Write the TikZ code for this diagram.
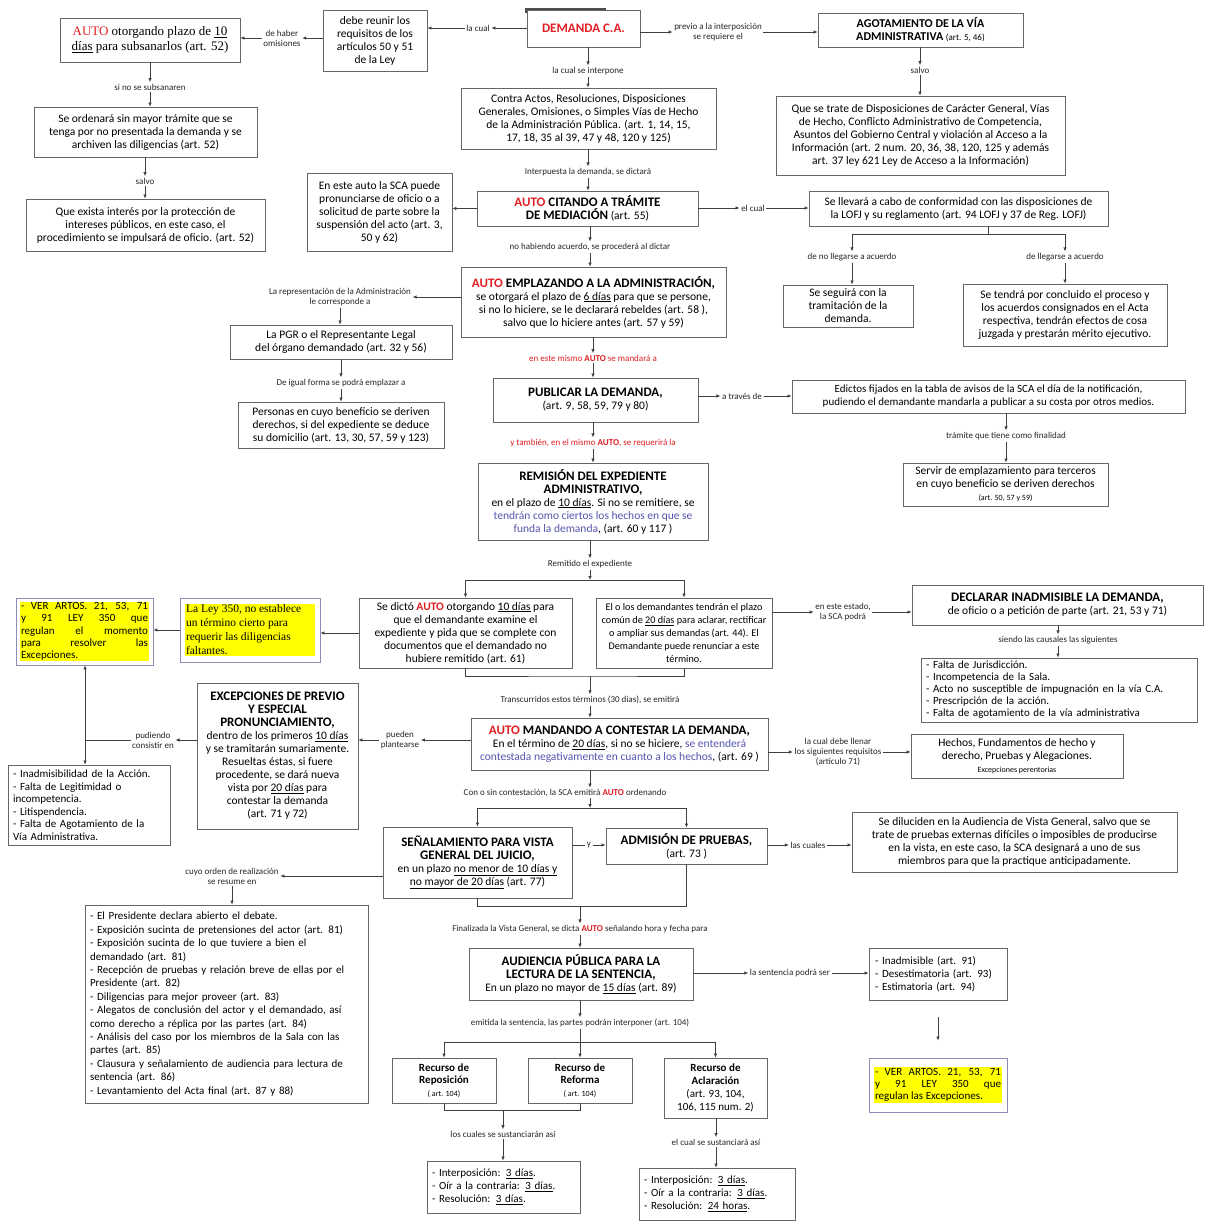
\documentclass[tikz,border=0pt]{standalone}
\usepackage{fontspec}
\setmainfont{Carlito}
\newfontfamily\timesf{Liberation Serif}
\usetikzlibrary{arrows.meta}
\definecolor{autored}{RGB}{225,30,35}
\definecolor{azul}{RGB}{85,85,175}
\definecolor{amarillo}{RGB}{255,255,0}
\definecolor{hlborde}{RGB}{140,140,185}
\newcommand{\ttl}[1]{{\fontsize{13}{14.5}\selectfont\bfseries #1}}
\newcommand{\hlpar}[2]{{\setlength{\fboxsep}{1pt}\colorbox{amarillo}{\parbox{#1}{#2}}}}
\begin{document}
\begin{tikzpicture}
        [x=1pt, y=-1pt,
        box/.style={draw=black!60, line width=0.8pt, fill=white, align=center, inner sep=2pt, font=\fontsize{11.5}{13}\selectfont},
        lbox/.style={box, align=left, inner xsep=5pt},
        hbox/.style={draw=hlborde, line width=0.8pt, fill=white, inner sep=3pt, font=\fontsize{11}{12.2}\selectfont},
        sz/.style 2 args={minimum width=#1pt, minimum height=#2pt},
        lbl/.style={align=center, inner sep=1.5pt, text=black!85, font=\fontsize{9}{10}\selectfont},
        conn/.style={line width=0.7pt, draw=black!75},
        arr/.style={conn, -{Latex[length=4pt, width=3.5pt]}}]

        \fill[white] (0,0) rectangle (1208,1231);
        \useasboundingbox (0,0) rectangle (1208,1231);

        % Top row
        \fill[black!70] (525,8) rectangle (606,13);
        \node[box, sz={113}{37}] (dem) at (583.5,28.5) {\ttl{\textcolor{autored}{DEMANDA C.A.}}};
        \node[box, sz={104}{61}] (req) at (375,40.5) {debe reunir los\\ requisitos de los\\ artículos 50 y 51\\ de la Ley};
        \node[box, sz={180}{44}, font=\timesf\fontsize{13}{15}\selectfont] (aut52) at (150,40) {\textcolor{autored}{AUTO} otorgando plazo de \underline{10}\\ \underline{días} para subsanarlos (art. 52)};
        \node[box, sz={205}{34}] (agot) at (920.5,30) {{\fontsize{12}{13}\selectfont\bfseries AGOTAMIENTO DE LA VÍA}\\ {\fontsize{12}{13}\selectfont\bfseries ADMINISTRATIVA} {\fontsize{9}{10}\selectfont (art. 5, 46)}};
        \node[lbl] (lcual) at (478,28) {la cual};
        \node[lbl] (lomis) at (282,38) {de haber\\ omisiones};
        \node[lbl] (lprevio) at (718,32) {previo a la interposición\\ se requiere el};

        % Left column
        \node[lbl] (lnosub) at (150,87) {si no se subsanaren};
        \node[box, sz={223}{50}] (ordenara) at (145.5,132) {Se ordenará sin mayor trámite que se\\ tenga por no presentada la demanda y se\\ archiven las diligencias (art. 52)};
        \node[lbl] (lsalvob) at (145,181) {salvo};
        \node[box, sz={239}{52}] (exista) at (145.5,225) {Que exista interés por la protección de\\ intereses públicos, en este caso, el\\ procedimiento se impulsará de oficio. (art. 52)};

        % Main column
        \node[lbl] (linterp) at (588,71) {la cual se interpone};
        \node[box, sz={255}{61}] (contra) at (588.5,118.5) {Contra Actos, Resoluciones, Disposiciones\\ Generales, Omisiones, o Simples Vías de Hecho\\ de la Administración Pública. (art. 1, 14, 15,\\ 17, 18, 35 al 39, 47 y 48, 120 y 125)};
        \node[lbl] (ldictara) at (588,172) {Interpuesta la demanda, se dictará};
        \node[box, sz={221}{35}] (citando) at (587.5,208.5) {\ttl{\textcolor{autored}{AUTO} CITANDO A TRÁMITE}\\ \ttl{DE MEDIACIÓN} (art. 55)};
        \node[box, sz={145}{78}] (enauto) at (379.5,212) {En este auto la SCA puede\\ pronunciarse de oficio o a\\ solicitud de parte sobre la\\ suspensión del acto (art. 3,\\ 50 y 62)};

        % Right column
        \node[lbl] (lsalvoa) at (920,70) {salvo};
        \node[box, sz={289}{79}] (que) at (920.5,135.5) {Que se trate de Disposiciones de Carácter General, Vías\\ de Hecho, Conflicto Administrativo de Competencia,\\ Asuntos del Gobierno Central y violación al Acceso a la\\ Información (art. 2 num. 20, 36, 38, 120, 125 y además\\ art. 37 ley 621 Ley de Acceso a la Información)};
        \node[lbl] (lelcual) at (753,208) {el cual};
        \node[box, sz={299}{35}] (llevara) at (958.5,208.5) {Se llevará a cabo de conformidad con las disposiciones de\\ la LOFJ y su reglamento (art. 94 LOFJ y 37 de Reg. LOFJ)};
        \coordinate (j1) at (988,234);
        \node[lbl] (lnollega) at (852,257) {de no llegarse a acuerdo};
        \node[lbl] (lllega) at (1065,257) {de llegarse a acuerdo};
        \node[box, sz={130}{42}] (seguira) at (848,306) {Se seguirá con la\\ tramitación de la\\ demanda.};
        \node[box, sz={204}{62}] (tendra) at (1065,315) {Se tendrá por concluido el proceso y\\ los acuerdos consignados en el Acta\\ respectiva, tendrán efectos de cosa\\ juzgada y prestarán mérito ejecutivo.};

        % Emplazamiento
        \node[lbl] (lnoacu) at (590,247) {no habiendo acuerdo, se procederá al dictar};
        \node[box, sz={265}{70}] (emplaz) at (593.5,302) {\ttl{\textcolor{autored}{AUTO} EMPLAZANDO A LA ADMINISTRACIÓN,}\\ se otorgará el plazo de \underline{6 días} para que se persone,\\ si no lo hiciere, se le declarará rebeldes (art. 58 ),\\ salvo que lo hiciere antes (art. 57 y 59)};
        \node[lbl] (lrepr) at (340,297) {La representación de la Administración\\ le corresponde a};
        \node[box, sz={222}{34}] (pgr) at (341,342) {La PGR o el Representante Legal\\ del órgano demandado (art. 32 y 56)};
        \node[lbl] (ligual) at (341,383) {De igual forma se podrá emplazar a};
        \node[box, sz={206}{46}] (personas) at (341,425) {Personas en cuyo beneficio se deriven\\ derechos, si del expediente se deduce\\ su domicilio (art. 13, 30, 57, 59 y 123)};

        % Publicacion y remision
        \node[lbl, text=autored] (lmismo) at (593,358) {en este mismo \textbf{AUTO} se mandará a};
        \node[box, sz={205}{44}] (publicar) at (595.5,400) {\ttl{PUBLICAR LA DEMANDA,}\\ (art. 9, 58, 59, 79 y 80)};
        \node[lbl] (ltraves) at (742,396) {a través de};
        \node[box, sz={393}{33}, font=\fontsize{11}{13}\selectfont] (edictos) at (988.5,396.5) {Edictos fijados en la tabla de avisos de la SCA el día de la notificación,\\ pudiendo el demandante mandarla a publicar a su costa por otros medios.};
        \node[lbl] (lfinal) at (1006,436) {trámite que tiene como finalidad};
        \node[box, sz={205}{43}] (servir) at (1005.5,484.5) {Servir de emplazamiento para terceros\\ en cuyo beneficio se deriven derechos\\ {\fontsize{8}{9}\selectfont (art. 50, 57 y 59)}};
        \node[lbl, text=autored] (ltambien) at (593,443) {y también, en el mismo \textbf{AUTO}, se requerirá la};
        \node[box, sz={230}{77}] (remision) at (593,501.5) {\ttl{REMISIÓN DEL EXPEDIENTE}\\ \ttl{ADMINISTRATIVO,}\\ en el plazo de \underline{10 días}. Si no se remitiere, se\\ \textcolor{azul}{tendrán como ciertos los hechos en que se}\\ \textcolor{azul}{funda la demanda}, (art. 60 y 117 )};

        % Expediente remitido
        \node[lbl] (lremitido) at (590,564) {Remitido el expediente};
        \coordinate (j3) at (590,580);
        \node[box, sz={213}{70}] (sedicto) at (465.5,633) {Se dictó \textcolor{autored}{\textbf{AUTO}} otorgando \underline{10 días} para\\ que el demandante examine el\\ expediente y pida que se complete con\\ documentos que el demandado no\\ hubiere remitido (art. 61)};
        \node[box, sz={176}{70}, font=\fontsize{10.2}{12.8}\selectfont] (elolos) at (684,633) {El o los demandantes tendrán el plazo\\ común de \underline{20 días} para aclarar, rectificar\\ o ampliar sus demandas (art. 44). El\\ Demandante puede renunciar a este\\ término.};
        \node[hbox, sz={140}{64}] (ley350) at (250,630) {\hlpar{128pt}{\timesf\fontsize{11.5}{14}\selectfont\raggedright La Ley 350, no establece\\ un término cierto para\\ requerir las diligencias\\ faltantes.}};
        \node[hbox, sz={137}{67}] (ver1) at (84.5,631.5) {\hlpar{127pt}{- VER ARTOS. 21, 53, 71\linebreak y 91 LEY 350 que\linebreak regulan el momento\linebreak para resolver las\linebreak Excepciones.}};
        \node[lbl] (lestado) at (843,612) {en este estado,\\ la SCA podrá};
        \node[box, sz={291}{40}] (declarar) at (1057.5,605) {\ttl{DECLARAR INADMISIBLE LA DEMANDA,}\\ de oficio o a petición de parte (art. 21, 53 y 71)};
        \node[lbl] (lcausales) at (1058,640) {siendo las causales las siguientes};
        \node[lbox, sz={276}{64}, text width=266pt, font=\fontsize{11}{12}\selectfont] (causales) at (1059,690) {- Falta de Jurisdicción.\\ - Incompetencia de la Sala.\\ - Acto no susceptible de impugnación en la vía C.A.\\ - Prescripción de la acción.\\ - Falta de agotamiento de la vía administrativa};

        % Contestacion
        \coordinate (m1) at (590,676);
        \node[lbl] (ltransc) at (590,700) {Transcurridos estos términos (30 días), se emitirá};
        \node[box, sz={297}{52}] (mandando) at (619.5,744) {\ttl{\textcolor{autored}{AUTO} MANDANDO A CONTESTAR LA DEMANDA,}\\ En el término de \underline{20 días}, si no se hiciere, \textcolor{azul}{se entenderá}\\ \textcolor{azul}{contestada negativamente en cuanto a los hechos}, (art. 69 )};
        \node[lbl] (lplantear) at (400,740) {pueden\\ plantearse};
        \node[box, sz={161}{146}] (excep) at (277.5,756) {\ttl{EXCEPCIONES DE PREVIO}\\ \ttl{Y ESPECIAL}\\ \ttl{PRONUNCIAMIENTO,}\\ dentro de los primeros \underline{10 días}\\ y se tramitarán sumariamente.\\ Resueltas éstas, si fuere\\ procedente, se dará nueva\\ vista por \underline{20 días} para\\ contestar la demanda\\ (art. 71 y 72)};
        \node[lbl] (lconsistir) at (153,740) {pudiendo\\ consistir en};
        \coordinate (v1) at (85,740);
        \node[lbox, sz={162}{80}, text width=152pt, font=\fontsize{11}{12.5}\selectfont] (inad) at (89,805) {- Inadmisibilidad de la Acción.\\ - Falta de Legitimidad o\\ incompetencia.\\ - Litispendencia.\\ - Falta de Agotamiento de la\\ Vía Administrativa.};
        \node[lbl] (lrequis) at (838,752) {la cual debe llenar\\ los siguientes requisitos\\ (artículo 71)};
        \node[box, sz={212}{44}] (hechos) at (1017,756) {Hechos, Fundamentos de hecho y\\ derecho, Pruebas y Alegaciones.\\ {\fontsize{8}{9}\selectfont Excepciones perentorias}};

        % Vista general y pruebas
        \node[lbl] (lcontest) at (565,793) {Con o sin contestación, la SCA emitirá \textcolor{autored}{\textbf{AUTO}} ordenando};
        \coordinate (j4) at (590,808);
        \node[box, sz={189}{71}] (senal) at (477.5,862.5) {\ttl{SEÑALAMIENTO PARA VISTA}\\ \ttl{GENERAL DEL JUICIO,}\\ en un plazo \underline{no menor de 10 días y}\\ \underline{no mayor de 20 días} (art. 77)};
        \node[box, sz={161}{36}] (admision) at (686.5,846) {\ttl{ADMISIÓN DE PRUEBAS,}\\ (art. 73 )};
        \node[lbl] (ly) at (589,845) {y};
        \node[lbl] (lcuales) at (808,845) {las cuales};
        \node[box, sz={325}{60}] (diluciden) at (1014.5,842) {Se diluciden en la Audiencia de Vista General, salvo que se\\ trate de pruebas externas difíciles o imposibles de producirse\\ en la vista, en este caso, la SCA designará a uno de sus\\ miembros para que la practique anticipadamente.};
        \node[lbl] (lorden) at (232,876) {cuyo orden de realización\\ se resume en};
        \node[lbox, sz={283}{198}, text width=273pt, font=\fontsize{11}{13.4}\selectfont] (vista) at (226.5,1004) {- El Presidente declara abierto el debate.\\ - Exposición sucinta de pretensiones del actor (art. 81)\\ - Exposición sucinta de lo que tuviere a bien el\\ demandado (art. 81)\\ - Recepción de pruebas y relación breve de ellas por el\\ Presidente (art. 82)\\ - Diligencias para mejor proveer (art. 83)\\ - Alegatos de conclusión del actor y el demandado, así\\ como derecho a réplica por las partes (art. 84)\\ - Análisis del caso por los miembros de la Sala con las\\ partes (art. 85)\\ - Clausura y señalamiento de audiencia para lectura de\\ sentencia (art. 86)\\ - Levantamiento del Acta final (art. 87 y 88)};

        % Sentencia
        \coordinate (m2) at (580,906);
        \node[lbl] (lfinaliz) at (580,929) {Finalizada la Vista General, se dicta \textcolor{autored}{\textbf{AUTO}} señalando hora y fecha para};
        \node[box, sz={224}{52}] (audiencia) at (581,974) {\ttl{AUDIENCIA PÚBLICA PARA LA}\\ \ttl{LECTURA DE LA SENTENCIA,}\\ En un plazo no mayor de \underline{15 días} (art. 89)};
        \node[lbl] (lsentencia) at (790,973) {la sentencia podrá ser};
        \node[lbox, sz={138}{52}, text width=126pt, font=\fontsize{11}{13}\selectfont] (sentbox) at (938,974) {- Inadmisible (art. 91)\\ - Desestimatoria (art. 93)\\ - Estimatoria (art. 94)};
        \node[hbox, sz={138}{54}] (ver2) at (938,1085) {\hlpar{126pt}{- VER ARTOS. 21, 53, 71\linebreak y 91 LEY 350 que\linebreak regulan las Excepciones.}};

        % Recursos
        \node[lbl] (lemitida) at (580,1023) {emitida la sentencia, las partes podrán interponer (art. 104)};
        \coordinate (j5) at (580,1042);
        \node[box, sz={104}{45}, font=\fontsize{11}{12.5}\selectfont] (repos) at (444,1080.5) {\textbf{Recurso de}\\ \textbf{Reposición}\\ {\fontsize{8}{9}\selectfont ( art. 104)}};
        \node[box, sz={104}{45}, font=\fontsize{11}{12.5}\selectfont] (reforma) at (580,1080.5) {\textbf{Recurso de}\\ \textbf{Reforma}\\ {\fontsize{8}{9}\selectfont ( art. 104)}};
        \node[box, sz={103}{60}, font=\fontsize{11}{13}\selectfont] (aclar) at (715.5,1088) {\textbf{Recurso de}\\ \textbf{Aclaración}\\ (art. 93, 104,\\ 106, 115 num. 2)};
        \coordinate (m3) at (503,1110);
        \node[lbl] (lsust1) at (503,1134) {los cuales se sustanciarán así};
        \node[lbox, sz={153}{52}, text width=143pt, font=\fontsize{11}{13}\selectfont] (plazos1) at (503.5,1187) {- Interposición: \underline{3 días}.\\ - Oír a la contraria: \underline{3 días}.\\ - Resolución: \underline{3 días}.};
        \node[lbl] (lsust2) at (716,1142) {el cual se sustanciará así};
        \node[lbox, sz={156}{52}, text width=146pt, font=\fontsize{11}{13}\selectfont] (plazos2) at (717,1194) {- Interposición: \underline{3 días}.\\ - Oír a la contraria: \underline{3 días}.\\ - Resolución: \underline{24 horas}.};

        % Connectors, top
        \draw[arr] (dem.west |- lcual) -- (lcual);
        \draw[arr] (lcual) -- (req.east |- lcual);
        \draw[arr] (req.west |- lomis) -- (lomis);
        \draw[arr] (lomis) -- (aut52.east |- lomis);
        \draw[arr] (dem.east |- lprevio) -- (lprevio);
        \draw[arr] (lprevio) -- (agot.west |- lprevio);
        \draw[arr] (aut52.south -| lnosub) -- (lnosub);
        \draw[arr] (lnosub) -- (lnosub |- ordenara.north);
        \draw[arr] (ordenara.south -| lsalvob) -- (lsalvob);
        \draw[arr] (lsalvob) -- (lsalvob |- exista.north);
        \draw[arr] (agot.south -| lsalvoa) -- (lsalvoa);
        \draw[arr] (lsalvoa) -- (lsalvoa |- que.north);

        % Connectors, main column
        \draw[arr] (dem.south -| linterp) -- (linterp);
        \draw[arr] (linterp) -- (linterp |- contra.north);
        \draw[arr] (contra.south -| ldictara) -- (ldictara);
        \draw[arr] (ldictara) -- (ldictara |- citando.north);
        \draw[arr] (citando.west) -- (citando.west -| enauto.east);
        \draw[arr] (citando.east |- lelcual) -- (lelcual);
        \draw[arr] (lelcual) -- (llevara.west |- lelcual);
        \draw[conn] (j1 |- llevara.south) -- (j1);
        \draw[arr] (j1) -| (lnollega);
        \draw[arr] (j1) -| (lllega);
        \draw[arr] (lnollega) -- (lnollega |- seguira.north);
        \draw[arr] (lllega) -- (lllega |- tendra.north);
        \draw[arr] (citando.south -| lnoacu) -- (lnoacu);
        \draw[arr] (lnoacu) -- (lnoacu |- emplaz.north);
        \draw[arr] (emplaz.west |- lrepr) -- (lrepr);
        \draw[arr] (lrepr) -- (lrepr |- pgr.north);
        \draw[arr] (pgr.south -| ligual) -- (ligual);
        \draw[arr] (ligual) -- (ligual |- personas.north);
        \draw[arr] (emplaz.south -| lmismo) -- (lmismo);
        \draw[arr] (lmismo) -- (lmismo |- publicar.north);
        \draw[arr] (publicar.east |- ltraves) -- (ltraves);
        \draw[arr] (ltraves) -- (edictos.west |- ltraves);
        \draw[arr] (edictos.south -| lfinal) -- (lfinal);
        \draw[arr] (lfinal) -- (lfinal |- servir.north);
        \draw[arr] (publicar.south -| ltambien) -- (ltambien);
        \draw[arr] (ltambien) -- (ltambien |- remision.north);

        % Connectors, middle part
        \draw[arr] (remision.south -| lremitido) -- (lremitido);
        \draw[arr] (lremitido) -- (j3);
        \draw[arr] (j3) -| (sedicto);
        \draw[arr] (j3) -| (elolos);
        \draw[arr] (sedicto.west) -- (sedicto.west -| ley350.east);
        \draw[arr] (ley350.west) -- (ley350.west -| ver1.east);
        \draw[arr] (elolos.east |- lestado) -- (lestado);
        \draw[arr] (lestado) -- (declarar.west |- lestado);
        \draw[arr] (declarar.south -| lcausales) -- (lcausales);
        \draw[arr] (lcausales) -- (lcausales |- causales.north);
        \draw[conn] (sedicto.south) |- (m1) -| (elolos.south);
        \draw[arr] (m1) -- (ltransc);
        \draw[arr] (ltransc) -- (ltransc |- mandando.north);
        \draw[arr] (mandando.west |- lplantear) -- (lplantear);
        \draw[arr] (lplantear) -- (excep.east |- lplantear);
        \draw[arr] (excep.west |- lconsistir) -- (lconsistir);
        \draw[conn] (lconsistir) -- (v1);
        \draw[arr] (v1) -- (v1 |- ver1.south);
        \draw[arr] (v1) -- (v1 |- inad.north);
        \draw[arr] (mandando.east |- lrequis) -- (lrequis);
        \draw[arr] (lrequis) -- (hechos.west |- lrequis);

        % Connectors, lower part
        \draw[arr] (j4 |- mandando.south) -- (j4 |- lcontest.north);
        \draw[arr] (j4 |- lcontest.south) -- (j4);
        \draw[arr] (j4) -| (senal);
        \draw[arr] (j4) -| (admision);
        \draw[conn] (senal.east |- ly) -- (ly);
        \draw[arr] (ly) -- (admision.west |- ly);
        \draw[arr] (admision.east |- lcuales) -- (lcuales);
        \draw[arr] (lcuales) -- (diluciden.west |- lcuales);
        \draw[arr] (senal.west |- lorden) -- (lorden);
        \draw[arr] (lorden) -- (lorden |- vista.north);
        \draw[conn] (senal.south) |- (m2) -| (admision.south);
        \draw[arr] (m2) -- (lfinaliz);
        \draw[arr] (lfinaliz) -- (lfinaliz |- audiencia.north);
        \draw[arr] (audiencia.east |- lsentencia) -- (lsentencia);
        \draw[arr] (lsentencia) -- (sentbox.west |- lsentencia);
        \draw[arr, shorten <=17pt, shorten >=17pt] (sentbox) -- (ver2);
        \draw[arr] (audiencia.south -| lemitida) -- (lemitida);
        \draw[conn] (lemitida) -- (j5);
        \draw[arr] (j5) -| (repos);
        \draw[arr] (j5) -- (reforma);
        \draw[arr] (j5) -| (aclar);
        \draw[conn] (repos.south) |- (m3) -| (reforma.south);
        \draw[arr] (m3) -- (lsust1);
        \draw[arr] (lsust1) -- (lsust1 |- plazos1.north);
        \draw[arr] (aclar.south -| lsust2) -- (lsust2);
        \draw[arr] (lsust2) -- (lsust2 |- plazos2.north);

    \end{tikzpicture}
\end{document}
